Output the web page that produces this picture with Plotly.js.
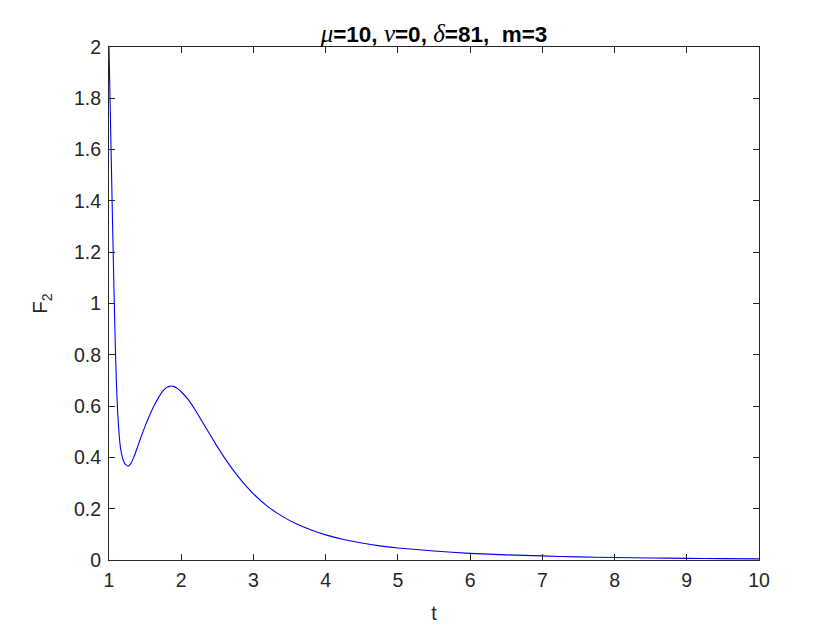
<!DOCTYPE html>
<html>
<head>
<meta charset="utf-8">
<script src="https://cdn.plot.ly/plotly-3.0.1.min.js"></script>
<style>html,body{margin:0;padding:0;background:#fff;}#chart{width:840px;height:630px;}</style>
</head>
<body>
<div id="chart"></div>
<script>
// Values
const tValues = [1.00, 1.02, 1.04, 1.06, 1.08, 1.10, 1.12, 1.14, 1.16, 1.19, 1.22, 1.265, 1.30, 1.35, 1.40, 1.45, 1.50, 1.55, 1.60, 1.65, 1.70, 1.75, 1.80, 1.85, 1.90, 1.95, 2.00, 2.10, 2.20, 2.30, 2.40, 2.50, 2.60, 2.70, 2.80, 2.90, 3.00, 3.20, 3.40, 3.60, 3.80, 4.00, 4.25, 4.50, 4.75, 5.00, 5.50, 6.00, 6.50, 7.00, 7.50, 8.00, 8.50, 9.00, 9.50, 10.00];
const f2Values = [2.00, 1.72, 1.44, 1.17, 0.92, 0.71, 0.575, 0.49, 0.435, 0.395, 0.375, 0.366, 0.375, 0.405, 0.445, 0.485, 0.522, 0.556, 0.588, 0.615, 0.640, 0.660, 0.673, 0.678, 0.676, 0.668, 0.656, 0.624, 0.582, 0.535, 0.488, 0.442, 0.398, 0.358, 0.321, 0.288, 0.258, 0.208, 0.170, 0.140, 0.117, 0.098, 0.080, 0.066, 0.055, 0.047, 0.035, 0.026, 0.020, 0.016, 0.012, 0.010, 0.008, 0.0065, 0.0055, 0.0045];
const xTicks = [1, 2, 3, 4, 5, 6, 7, 8, 9, 10];
const yTicks = [0, 0.2, 0.4, 0.6, 0.8, 1, 1.2, 1.4, 1.6, 1.8, 2];
const yTickText = ['0', '0.2', '0.4', '0.6', '0.8', '1', '1.2', '1.4', '1.6', '1.8', '2'];

const axisColor = '#262626';
const fontFam = 'Arial, "Liberation Sans", Helvetica, sans-serif';
const greek = s => '<span style="font-family:\'Liberation Serif\',serif;font-style:italic;font-weight:normal;font-size:25px">' + s + '</span>';

const trace = {
  x: tValues, y: f2Values, type: 'scatter', mode: 'lines',
  line: {color: '#0000FF', width: 1.1, shape: 'spline', smoothing: 0.5},
  hoverinfo: 'skip'
};

const layout = {
  width: 840, height: 630,
  margin: {l: 109, r: 81, t: 47, b: 70, pad: 0},
  paper_bgcolor: '#ffffff', plot_bgcolor: '#ffffff',
  showlegend: false,
  font: {family: fontFam, color: axisColor, size: 19},
  title: {
    text: '<b>' + greek('μ') + '=10, ' + greek('ν') + '=0, ' + greek('δ') + '=81, &nbsp;m=3</b>',
    font: {family: fontFam, size: 22.5, color: '#000000'},
    x: 0.5, xref: 'paper', xanchor: 'center',
    y: 1, yref: 'paper', yanchor: 'bottom', pad: {b: 5}
  },
  xaxis: {
    range: [1, 10], tickvals: xTicks, ticktext: xTicks.map(String),
    showgrid: false, zeroline: false,
    showline: true, linecolor: axisColor, linewidth: 1, mirror: 'ticks',
    ticks: 'inside', ticklen: 6, tickwidth: 1, tickcolor: axisColor,
    tickfont: {size: 19.5, color: axisColor}, ticklabelstandoff: 3,
    title: {text: 't', font: {size: 19.5, color: axisColor}, standoff: 15}
  },
  yaxis: {
    range: [0, 2], tickvals: yTicks, ticktext: yTickText,
    showgrid: false, zeroline: false,
    showline: true, linecolor: axisColor, linewidth: 1, mirror: 'ticks',
    ticks: 'inside', ticklen: 6, tickwidth: 1, tickcolor: axisColor,
    tickfont: {size: 19.5, color: axisColor}, ticklabelstandoff: 3,
    title: {text: 'F<sub>2</sub>', font: {size: 20.5, color: axisColor}, standoff: 20}
  }
};

Plotly.newPlot('chart', [trace], layout, {staticPlot: true, displayModeBar: false});
</script>
</body>
</html>
